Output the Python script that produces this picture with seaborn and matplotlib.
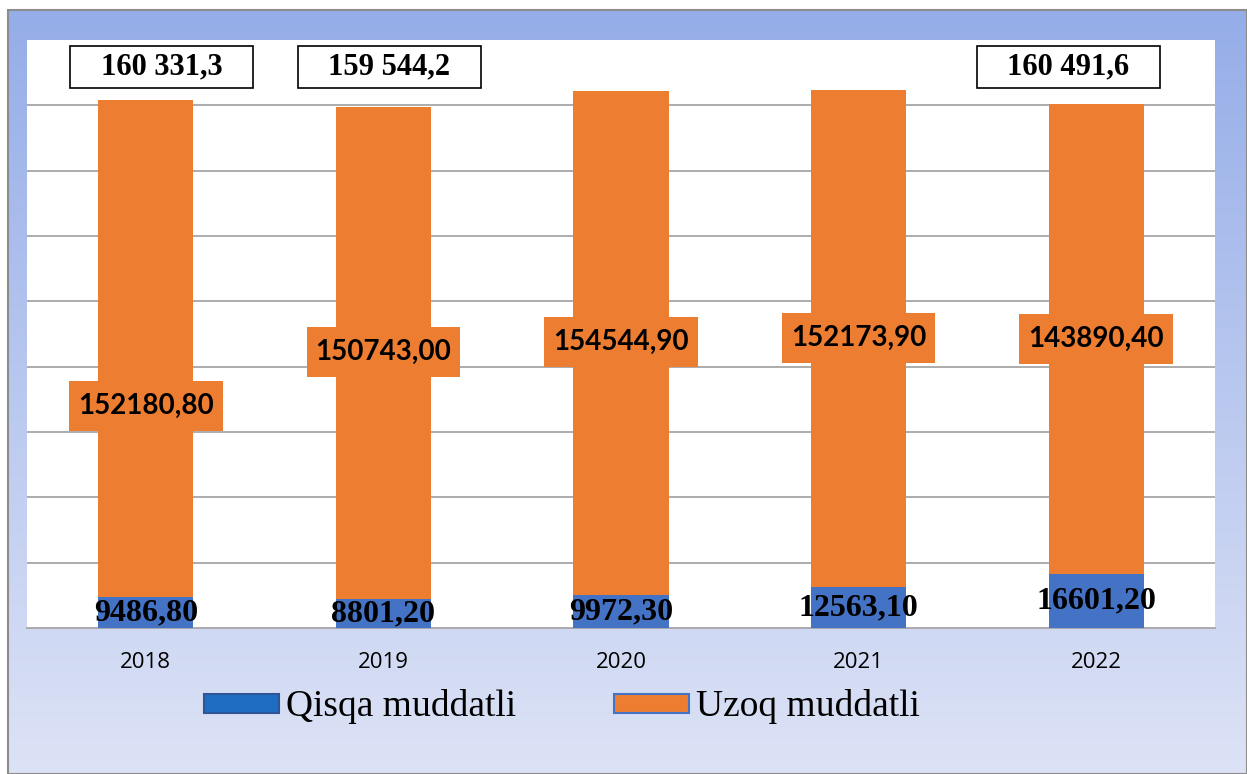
import numpy as np
import matplotlib
matplotlib.use("Agg")
import matplotlib.pyplot as plt
from matplotlib.patches import Rectangle, Patch
import seaborn as sns
import pandas as pd

# ---- data ----
years = ["2018", "2019", "2020", "2021", "2022"]
qisqa = [9486.80, 8801.20, 9972.30, 12563.10, 16601.20]
uzoq = [152180.80, 150743.00, 154544.90, 152173.90, 143890.40]
qisqa_labels = ["9486,80", "8801,20", "9972,30", "12563,10", "16601,20"]
uzoq_labels = ["152180,80", "150743,00", "154544,90", "152173,90", "143890,40"]
total_labels = ["160 331,3", "159 544,2", None, None, "160 491,6"]
series_names = ["Qisqa muddatli", "Uzoq muddatli"]

# ---- label placement (data units) ----
uzoq_label_y = [67900, 84500, 87500, 88700, 88400]
total_label_dx = [0.067, 0.025, 0.0, 0.0, -0.117]
total_label_y = 171800

sns.set_style("white")
plt.rcParams["text.color"] = "black"
plt.rcParams["xtick.color"] = "black"

W, H = 1247, 774
fig = plt.figure(figsize=(W / 100, H / 100), dpi=100)
fig.patch.set_facecolor("white")

# gradient background frame
bg = fig.add_axes([8 / W, 0, 1 - 8 / W, (H - 10) / H])
t = np.linspace(0, 1, 256)[:, None, None]
top_c = np.array([149, 173, 232]) / 255
bot_c = np.array([221, 227, 246]) / 255
img = top_c[None, None, :] * (1 - t) + bot_c[None, None, :] * t
bg.imshow(img, aspect="auto", extent=[0, 1, 0, 1])
bg.set_xlim(0, 1)
bg.set_ylim(0, 1)
bg.axis("off")
bg.add_patch(Rectangle((0, 0), 1, 1, transform=bg.transAxes, fill=False,
                       edgecolor="#8C8C8C", lw=1.5, clip_on=False))

# main axes
ax = fig.add_axes([27 / W, 1 - 628 / H, (1215 - 27) / W, (628 - 40) / H])
ax.set_facecolor("white")

totals = [a + b for a, b in zip(qisqa, uzoq)]
df = pd.DataFrame({"year": years, "total": totals, "qisqa": qisqa})

sns.barplot(data=df, x="year", y="total", color="#ED7D31", saturation=1,
            width=0.4, errorbar=None, linewidth=0, ax=ax, zorder=2)
sns.barplot(data=df, x="year", y="qisqa", color="#4472C4", saturation=1,
            width=0.4, errorbar=None, linewidth=0, ax=ax, zorder=3)

ax.set_xlim(-0.5, 4.5)
ax.set_ylim(0, 180000)
ax.set_yticks(np.arange(20000, 160001, 20000))
ax.yaxis.grid(True, color="#A6A6A6", lw=1.3)
ax.set_axisbelow(True)
ax.tick_params(axis="y", left=False, labelleft=False)
ax.set_xlabel("")
ax.set_ylabel("")
for s in ["top", "right", "left"]:
    ax.spines[s].set_visible(False)
ax.spines["bottom"].set_color("#A6A6A6")
ax.spines["bottom"].set_linewidth(1.3)

ax.tick_params(axis="x", which="major", length=0, pad=17, labelsize=16,
               labelcolor="black")
for lab in ax.get_xticklabels():
    lab.set_fontfamily("Open Sans")
ax.set_xticks(np.arange(-0.5, 5, 1), minor=True)
ax.tick_params(axis="x", which="minor", length=8, width=1.3, color="#A6A6A6",
               direction="out")

for i in range(len(years)):
    ax.text(i, uzoq_label_y[i], uzoq_labels[i], ha="center", va="center",
            fontsize=20, fontweight="bold", family="Lato", color="black",
            zorder=6,
            bbox=dict(boxstyle="square,pad=0.32", fc="#ED7D31", ec="none",
                      mutation_aspect=1.35))
    ax.text(i, qisqa[i] / 2, qisqa_labels[i], ha="center", va="center",
            fontsize=23, fontweight="bold", family="Liberation Serif",
            color="black", zorder=6)
    if total_labels[i]:
        ax.text(i + total_label_dx[i], total_label_y, total_labels[i],
                ha="center", va="center", fontsize=22, fontweight="bold",
                family="Liberation Serif", color="black", zorder=6,
                bbox=dict(boxstyle="square,pad=1.0", fc="white", ec="black",
                          lw=1.2, mutation_aspect=0.22))

handles = [Patch(facecolor="#1F6DC2", edgecolor="#2E5597", lw=1.5),
           Patch(facecolor="#ED7D31", edgecolor="#4472C4", lw=1.5)]
fig.legend(handles, series_names, loc="center",
           bbox_to_anchor=(562 / W, 1 - 707 / H), ncol=2, frameon=False,
           prop={"family": "Liberation Serif", "size": 27},
           labelcolor="black",
           handlelength=2.0, handleheight=0.4, handletextpad=0.2,
           columnspacing=2.6)

fig.savefig("out.png", dpi=100)
